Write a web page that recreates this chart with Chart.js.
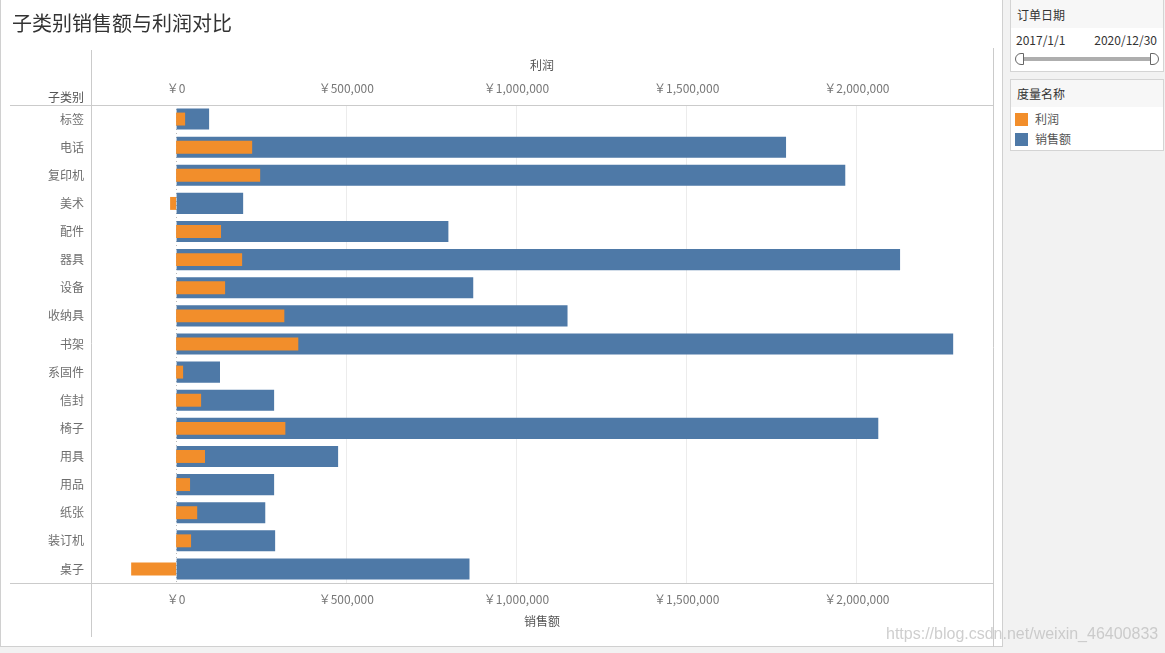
<!DOCTYPE html>
<html>
<head>
<meta charset="utf-8">
<script src="https://cdn.jsdelivr.net/npm/chart.js@4/dist/chart.umd.min.js"></script>
<style>
  html, body { margin: 0; padding: 0; }
  body { width: 1165px; height: 653px; background: #f2f2f2; position: relative; overflow: hidden;
         font-family: "Noto Sans CJK SC", "Noto Sans", sans-serif; }
  #main { position: absolute; left: 0; top: 0; width: 1003px; height: 647px; background: #fff;
          border-right: 1px solid #d0d0d0; border-bottom: 1px solid #d0d0d0; box-sizing: border-box; }
  #main:before { content: ""; position: absolute; left: 0; top: 0; width: 1px; height: 647px; background: #d0d0d0; }
  #title { position: absolute; left: 12px; top: 12px; font-size: 20px; line-height: 22px; color: #333; white-space: nowrap; }
  #rowhdr { position: absolute; right: calc(1003px - 85px); top: 89px; font-size: 12px; line-height: 16px; color: #555; }
  canvas { position: absolute; left: 0; top: 0; }
  .panel { position: absolute; left: 1010px; width: 154px; background: #fff; border: 1px solid #d4d4d4; box-sizing: border-box; }
  .phdr { height: 27px; background: #f7f7f7; font-size: 12px; line-height: 27px; color: #333; padding-left: 6px; }
  #p1 { top: -1px; height: 73px; }
  #p2 { top: 79px; height: 72px; }
  .dlab { position: absolute; top: 33px; font-size: 12px; line-height: 14px; color: #333; }
  #track { position: absolute; left: 11px; top: 57px; width: 132px; height: 4px; background: #aeaeae; }
  .handle { position: absolute; top: 53px; width: 9px; height: 12px; background: #fff; border: 1px solid #666; box-sizing: border-box; }
  #h1 { left: 4px; border-radius: 6px 0 0 6px; }
  #h2 { left: 139px; border-radius: 0 6px 6px 0; }
  .lg { position: absolute; left: 4px; font-size: 12px; line-height: 14px; color: #555; }
  .sw { display: inline-block; width: 13px; height: 13px; vertical-align: -2px; margin-right: 7px; }
  #wm { position: absolute; left: 886px; top: 625px; font-family: "Liberation Sans", Arial, sans-serif; font-size: 16px;
        color: rgba(190,190,190,0.75); white-space: nowrap; }
</style>
</head>
<body>
<div id="main">
  <canvas id="c" width="1003" height="647"></canvas>
  <div id="title">子类别销售额与利润对比</div>
  <div id="rowhdr">子类别</div>
</div>
<div class="panel" id="p1">
  <div class="phdr" style="padding-top:1px">订单日期</div>
  <div class="dlab" style="left:5px">2017/1/1</div>
  <div class="dlab" style="right:6px">2020/12/30</div>
  <div id="track"></div>
  <div class="handle" id="h1"></div>
  <div class="handle" id="h2"></div>
</div>
<div class="panel" id="p2">
  <div class="phdr">度量名称</div>
  <div class="lg" style="top:32px"><span class="sw" style="background:#f28e2b"></span>利润</div>
  <div class="lg" style="top:52px"><span class="sw" style="background:#4e79a7"></span>销售额</div>
</div>
<div id="wm">https://blog.csdn.net/weixin_46400833</div>

<script>
const categories = ['标签','电话','复印机','美术','配件','器具','设备','收纳具','书架','系固件','信封','椅子','用具','用品','纸张','装订机','桌子'];
const salesValues = [97000, 1792000, 1966000, 197000, 800000, 2127000, 873000, 1150000, 2283000, 129000, 288000, 2063000, 476000, 288000, 262000, 291000, 862000];
const profitValues = [26500, 223500, 247000, -17600, 132000, 194000, 144000, 318000, 359000, 20600, 73500, 321000, 85000, 41000, 62000, 44000, -132000];
const tickValues = [0, 500000, 1000000, 1500000, 2000000];
const axisMin = -250000, axisMax = 2400000;

const FONT = '"Noto Sans CJK SC", "Noto Sans", sans-serif';
const fmt = v => '￥' + Number(v).toLocaleString('en-US');
const keepTicks = axis => { axis.ticks = tickValues.map(v => ({ value: v })); };

const framePlugin = {
  id: 'frame',
  beforeDatasetsDraw(chart) {
    const ctx = chart.ctx, a = chart.chartArea;
    const x0 = chart.scales.x.getPixelForValue(0);
    ctx.save();
    ctx.strokeStyle = '#b8b8b8';
    ctx.lineWidth = 1;
    ctx.setLineDash([1, 3]);
    ctx.beginPath();
    ctx.moveTo(Math.round(x0) + 0.5, a.top);
    ctx.lineTo(Math.round(x0) + 0.5, a.bottom);
    ctx.stroke();
    ctx.restore();
  },
  afterDraw(chart) {
    const ctx = chart.ctx, a = chart.chartArea;
    ctx.save();
    ctx.strokeStyle = '#cbcbcb';
    ctx.lineWidth = 1;
    ctx.beginPath();
    ctx.moveTo(10, Math.round(a.top) + 0.5); ctx.lineTo(a.right + 1, Math.round(a.top) + 0.5);
    ctx.moveTo(10, Math.round(a.bottom) + 0.5); ctx.lineTo(a.right + 1, Math.round(a.bottom) + 0.5);
    ctx.moveTo(Math.round(a.left) + 0.5, 50); ctx.lineTo(Math.round(a.left) + 0.5, 637);
    ctx.moveTo(Math.round(a.right) + 0.5, 48); ctx.lineTo(Math.round(a.right) + 0.5, 647);
    ctx.stroke();
    ctx.restore();
  }
};

new Chart(document.getElementById('c'), {
  type: 'bar',
  data: {
    labels: categories,
    datasets: [
      { label: '利润', data: profitValues, xAxisID: 'x2', backgroundColor: '#f28e2b',
        barPercentage: 0.46, categoryPercentage: 1, grouped: false, order: 0 },
      { label: '销售额', data: salesValues, xAxisID: 'x', backgroundColor: '#4e79a7',
        barPercentage: 0.75, categoryPercentage: 1, grouped: false, order: 1 }
    ]
  },
  options: {
    indexAxis: 'y',
    responsive: false,
    animation: false,
    layout: { padding: { left: 0, right: 10, top: 0, bottom: 0 } },
    plugins: { legend: { display: false }, tooltip: { enabled: false } },
    scales: {
      y: {
        position: 'left',
        afterFit: s => { s.width = 91; },
        grid: { display: false, drawTicks: false },
        border: { display: false },
        ticks: { padding: 7, color: '#6e6e6e', font: { family: FONT, size: 12 } }
      },
      x: {
        position: 'bottom',
        min: axisMin, max: axisMax,
        afterBuildTicks: keepTicks,
        afterFit: s => { s.height = 64; },
        grid: { drawTicks: false, color: c => (c.tick && c.tick.value === 0) ? 'rgba(0,0,0,0)' : '#ececec' },
        border: { display: false },
        ticks: { padding: 9, color: '#777', font: { family: FONT, size: 12 }, callback: fmt, maxRotation: 0 },
        title: { display: true, text: '销售额', color: '#555', font: { family: FONT, size: 12 }, padding: { top: 0, bottom: 18 } }
      },
      x2: {
        position: 'top',
        min: axisMin, max: axisMax,
        afterBuildTicks: keepTicks,
        afterFit: s => { s.height = 105; },
        grid: { display: false, drawTicks: false },
        border: { display: false },
        ticks: { padding: 9, color: '#777', font: { family: FONT, size: 12 }, callback: fmt, maxRotation: 0 },
        title: { display: true, text: '利润', color: '#555', font: { family: FONT, size: 12 }, padding: { top: 58, bottom: 0 } }
      }
    }
  },
  plugins: [framePlugin]
});
</script>
</body>
</html>
